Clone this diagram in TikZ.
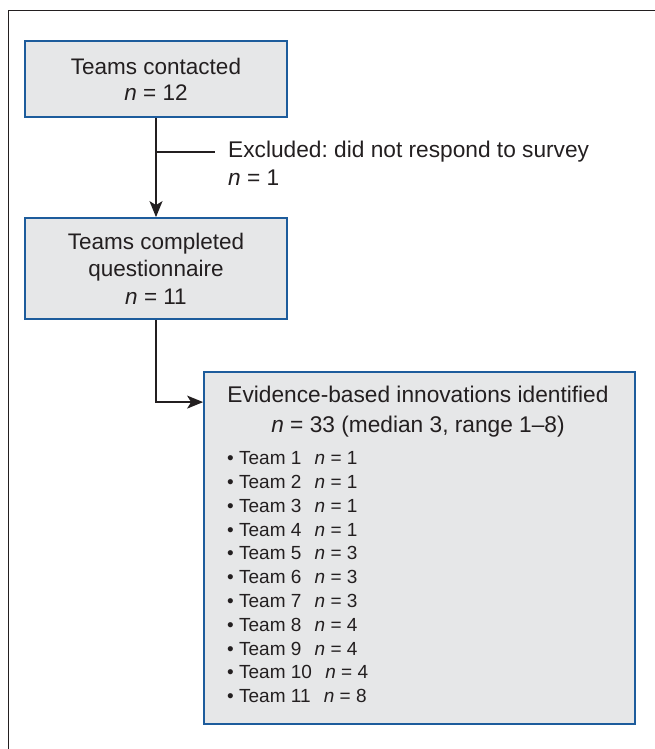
\documentclass[tikz,border=0pt]{standalone}
\usepackage{fontspec}
\setmainfont{Liberation Sans}
\usetikzlibrary{arrows.meta,calc}
\definecolor{boxfill}{HTML}{E6E7E8}
\definecolor{boxline}{HTML}{1D5C9C}
\definecolor{ink}{HTML}{231F20}
\frenchspacing
\begin{document}
\begin{tikzpicture}[x=1pt,y=-1pt,
  flowbox/.style={draw=boxline, line width=1.8pt, fill=boxfill, inner sep=0pt, align=center, text=ink},
  plaintext/.style={inner sep=0pt, text=ink},
  conn/.style={draw=ink, line width=1.5pt},
  tip/.style={-{Stealth[length=16pt,width=13pt,inset=4pt]}}
]
\useasboundingbox (0,0) rectangle (654,749);
\fill[white] (0,0) rectangle (654,749);
\draw[ink, line width=1pt] (8,770) -- (8,10.5) -- (670,10.5);
\node[flowbox, minimum width=262pt, minimum height=76pt, font=\fontsize{22.5}{26}\selectfont] (b1) at (156,79) {Teams contacted\\\textit{n} = 12};
\node[flowbox, minimum width=262pt, minimum height=101pt, font=\fontsize{22.5}{27.5}\selectfont] (b2) at (156,268.5) {Teams completed\\questionnaire\\\textit{n} = 11};
\node[flowbox, minimum width=431pt, minimum height=352pt] (b3) at (419.5,548) {};
\node[plaintext, anchor=north, align=center, font=\fontsize{22.7}{30}\selectfont] (h3) at (418,385.5) {Evidence-based innovations identified\\\textit{n} = 33 (median 3, range 1–8)};
\node[plaintext, anchor=north west, align=left, font=\fontsize{19}{23.8}\selectfont] (l3) at (227,451.5) {%
\textbullet\ Team 1\hspace{0.7em}\textit{n} = 1\\
\textbullet\ Team 2\hspace{0.7em}\textit{n} = 1\\
\textbullet\ Team 3\hspace{0.7em}\textit{n} = 1\\
\textbullet\ Team 4\hspace{0.7em}\textit{n} = 1\\
\textbullet\ Team 5\hspace{0.7em}\textit{n} = 3\\
\textbullet\ Team 6\hspace{0.7em}\textit{n} = 3\\
\textbullet\ Team 7\hspace{0.7em}\textit{n} = 3\\
\textbullet\ Team 8\hspace{0.7em}\textit{n} = 4\\
\textbullet\ Team 9\hspace{0.7em}\textit{n} = 4\\
\textbullet\ Team 10\hspace{0.7em}\textit{n} = 4\\
\textbullet\ Team 11\hspace{0.7em}\textit{n} = 8};
\node[plaintext, anchor=north west, align=left, font=\fontsize{22.7}{28}\selectfont] (ex) at (228,140.5) {Excluded: did not respond to survey\\\textit{n} = 1};
\coordinate (exs) at (b1.south |- 0,152);
\coordinate (exe) at (215,152);
\draw[conn, tip] (b1.south) -- (b2.north);
\draw[conn] (exs) -- (exe);
\draw[conn, tip] (b2.south) |- ([yshift=-31pt]b3.north west);
\end{tikzpicture}
\end{document}
